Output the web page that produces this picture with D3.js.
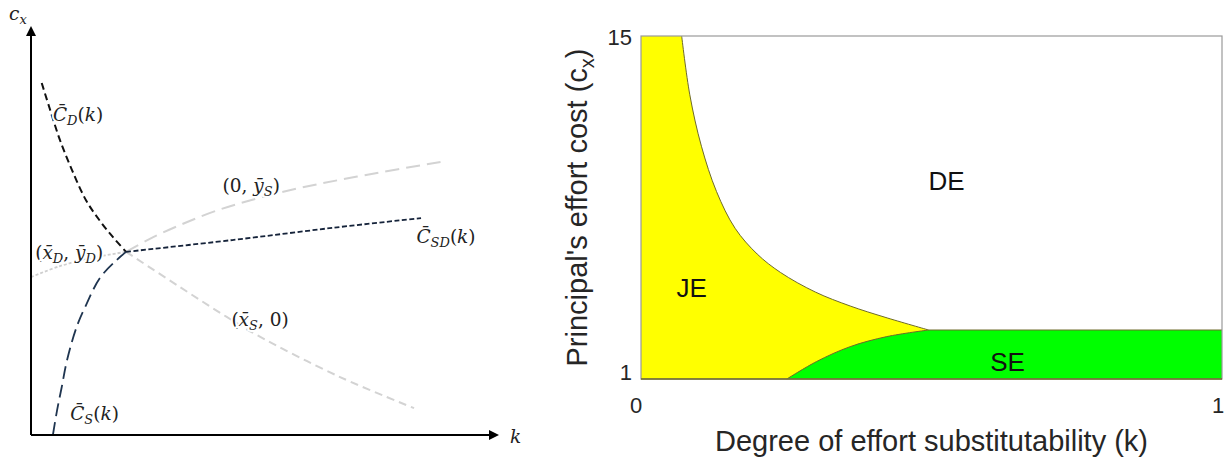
<!DOCTYPE html>
<html>
<head>
<meta charset="utf-8">
<title>Effort regions</title>
<script src="https://cdn.jsdelivr.net/npm/d3@7/dist/d3.min.js"></script>
<style>
body { margin: 0; background: #fff; }
svg { display: block; }
.math { font-family: 'DejaVu Serif', serif; font-size: 18.5px; fill: #222; }
.sans { font-family: 'Liberation Sans', Arial, sans-serif; fill: #262626; }
</style>
</head>
<body>
<svg id="chart" width="1225" height="457"></svg>
<script>
// ---------- right panel : equilibrium regions ----------
var kTicks  = [0, 1];
var cxTicks = [1, 15];

// JE / DE boundary
var jeDeK  = [0.070, 0.084, 0.104, 0.130, 0.162, 0.200, 0.240, 0.300, 0.360, 0.420, 0.495];
var jeDeCx = [15, 12.6, 10.5, 8.65, 7.15, 6.1, 5.35, 4.55, 3.98, 3.52, 3.0];
// JE / SE boundary
var jeSeK  = [0.251, 0.302, 0.360, 0.423, 0.495];
var jeSeCx = [1, 1.71, 2.32, 2.73, 3.0];
// SE / DE boundary
var seDeK  = [0.495, 1];
var seDeCx = [3, 3];

var regionNames = ["DE", "JE", "SE"];
var regionK     = [0.526, 0.087, 0.631];
var regionCx    = [9.08, 4.71, 1.71];

// ---------- left panel : schematic curves (unit box) ----------
var cdU  = [0.023, 0.041, 0.062, 0.088, 0.118, 0.148, 0.176, 0.204];
var cdV  = [0.865, 0.799, 0.725, 0.651, 0.577, 0.526, 0.486, 0.450];
var csU  = [0.047, 0.056, 0.066, 0.075, 0.087, 0.101, 0.116, 0.148, 0.184, 0.204];
var csV  = [0.000, 0.061, 0.118, 0.172, 0.226, 0.275, 0.314, 0.386, 0.430, 0.450];
var csdU = [0.204, 0.432, 0.647, 0.837];
var csdV = [0.450, 0.479, 0.509, 0.533];
var ysU  = [0.204, 0.255, 0.320, 0.395, 0.481, 0.577, 0.719, 0.884];
var ysV  = [0.450, 0.482, 0.516, 0.550, 0.580, 0.607, 0.639, 0.672];
var ydU  = [0.000, 0.062, 0.126, 0.204];
var ydV  = [0.388, 0.415, 0.434, 0.450];
var xsU  = [0.204, 0.319, 0.420, 0.484, 0.662, 0.822];
var xsV  = [0.450, 0.364, 0.290, 0.246, 0.143, 0.066];

var labelU = [0.047, 0.411, 0.009, 0.430, 0.084, 0.827];
var labelV = [0.771, 0.597, 0.432, 0.268, 0.037, 0.472];

function zip(a, b) { return a.map(function(d, i) { return [d, b[i]]; }); }

var svg = d3.select("#chart");

svg.append("defs").append("marker")
  .attr("id", "arrow")
  .attr("viewBox", "0 0 10 10")
  .attr("refX", 8).attr("refY", 5)
  .attr("markerWidth", 5).attr("markerHeight", 5)
  .attr("orient", "auto")
  .append("path").attr("d", "M0,0 L10,5 L0,10 z").attr("fill", "#000");

// ================= LEFT =================
var lx = d3.scaleLinear().domain([0, 1]).range([31, 497]);
var ly = d3.scaleLinear().domain([0, 1]).range([435, 28]);
var gL = svg.append("g");

var lline = d3.line()
  .x(function(d) { return lx(d[0]); })
  .y(function(d) { return ly(d[1]); })
  .curve(d3.curveCatmullRom.alpha(0.5));

var curves = [
  {pts: zip(ydU, ydV),   color: "#cfcfcf", dash: "3,2",  w: 1.8},
  {pts: zip(ysU, ysV),   color: "#d3d3d3", dash: "14,7", w: 2},
  {pts: zip(xsU, xsV),   color: "#d3d3d3", dash: "8,5",  w: 2},
  {pts: zip(cdU, cdV),   color: "#111",    dash: "7,4",  w: 2},
  {pts: zip(csU, csV),   color: "#1f3550", dash: "13,6", w: 1.8},
  {pts: zip(csdU, csdV), color: "#15233a", dash: "5,2.5", w: 1.8}
];
curves.forEach(function(c) {
  gL.append("path")
    .attr("d", lline(c.pts))
    .attr("fill", "none")
    .attr("stroke", c.color)
    .attr("stroke-width", c.w)
    .attr("stroke-dasharray", c.dash);
});

gL.append("line")
  .attr("x1", lx(0)).attr("y1", ly(0)).attr("x2", lx(0)).attr("y2", ly(1))
  .attr("stroke", "#000").attr("stroke-width", 2).attr("marker-end", "url(#arrow)");
gL.append("line")
  .attr("x1", lx(0)).attr("y1", ly(0)).attr("x2", lx(1)).attr("y2", ly(0))
  .attr("stroke", "#000").attr("stroke-width", 2).attr("marker-end", "url(#arrow)");

function mathLabel(x, y, parts, halo) {
  var t = gL.append("text").attr("class", "math").attr("x", x).attr("y", y);
  if (halo) t.attr("stroke", "#fff").attr("stroke-width", 4).attr("paint-order", "stroke");
  var down = false;
  parts.forEach(function(p) {
    var s = t.append("tspan").text(p[0]);
    if (p[1] === "i" || p[1] === "s") s.attr("font-style", "italic");
    if (p[1] === "s") {
      s.attr("font-size", "13px");
      if (!down) { s.attr("dy", 4); down = true; }
    } else if (down) {
      s.attr("dy", -4); down = false;
    }
  });
}

var labelParts = [
  [["C\u0304", "i"], ["D", "s"], ["("], ["k", "i"], [")"]],
  [["(0, "], ["y\u0304", "i"], ["S", "s"], [")"]],
  [["("], ["x\u0304", "i"], ["D", "s"], [", "], ["y\u0304", "i"], ["D", "s"], [")"]],
  [["("], ["x\u0304", "i"], ["S", "s"], [", 0)"]],
  [["C\u0304", "i"], ["S", "s"], ["("], ["k", "i"], [")"]],
  [["C\u0304", "i"], ["SD", "s"], ["("], ["k", "i"], [")"]]
];
labelParts.forEach(function(p, i) {
  mathLabel(lx(labelU[i]), ly(labelV[i]), p, true);
});
mathLabel(9, 20, [["c", "i"], ["x", "s"]], false);
mathLabel(510, 443, [["k", "i"]], false);

// ================= RIGHT =================
var x = d3.scaleLinear().domain([0, 1]).range([641, 1222]);
var y = d3.scaleLinear().domain([1, 15]).range([379, 36]);
var gR = svg.append("g");

var rline = d3.line()
  .x(function(d) { return x(d[0]); })
  .y(function(d) { return y(d[1]); })
  .curve(d3.curveCatmullRom.alpha(0.5));

var upper = rline(zip(jeDeK, jeDeCx));
var lower = rline(zip(jeSeK, jeSeCx));
var flat  = rline(zip(seDeK, seDeCx));

// JE (yellow)
gR.append("path")
  .attr("d", "M" + x(0) + "," + y(1) + "L" + x(0) + "," + y(15) + "L" + upper.slice(1) +
             "L" + x(jeDeK[jeDeK.length - 1]) + "," + y(1) + "Z")
  .attr("fill", "#ffff00");

// SE (green)
gR.append("path")
  .attr("d", lower + "L" + x(1) + "," + y(3) + "L" + x(1) + "," + y(1) + "Z")
  .attr("fill", "#00ff00");

[upper, lower, flat].forEach(function(d) {
  gR.append("path").attr("d", d).attr("fill", "none")
    .attr("stroke", "#6e6a2a").attr("stroke-width", 1);
});

gR.append("rect")
  .attr("x", x(0)).attr("y", y(15))
  .attr("width", x(1) - x(0)).attr("height", y(1) - y(15))
  .attr("fill", "none").attr("stroke", "#9a9a9a").attr("stroke-width", 1.2);
gR.append("line")
  .attr("x1", x(0)).attr("x2", x(1)).attr("y1", y(1)).attr("y2", y(1))
  .attr("stroke", "#6e6a2a").attr("stroke-width", 1.4);

var yAxis = gR.append("g")
  .attr("transform", "translate(" + x(0) + ",0)")
  .call(d3.axisLeft(y).tickValues(cxTicks).tickFormat(d3.format("d")).tickSize(0).tickPadding(9));
var xAxis = gR.append("g")
  .attr("transform", "translate(0," + y(1) + ")")
  .call(d3.axisBottom(x).tickValues(kTicks).tickFormat(d3.format("d")).tickSize(0).tickPadding(18));
[yAxis, xAxis].forEach(function(a) {
  a.select(".domain").remove();
  a.selectAll("text").attr("class", "sans").style("font-size", "22px")
    .attr("font-family", null);
});
yAxis.selectAll("text").attr("dy", function(d) { return d === 1 ? "0em" : "0.4em"; });
xAxis.selectAll("text").attr("dx", function(d) { return d === 1 ? "-0.2em" : "-0.25em"; });

gR.selectAll(".region")
  .data(regionNames)
  .enter().append("text")
  .attr("class", "sans")
  .attr("x", function(d, i) { return x(regionK[i]); })
  .attr("y", function(d, i) { return y(regionCx[i]); })
  .attr("dy", "0.36em")
  .attr("text-anchor", "middle")
  .style("font-size", "26px")
  .style("fill", "#111")
  .text(function(d) { return d; });

gR.append("text")
  .attr("class", "sans")
  .attr("x", (x(0) + x(1)) / 2)
  .attr("y", 451)
  .attr("text-anchor", "middle")
  .style("font-size", "29px")
  .text("Degree of effort substitutability (k)");

var yt = gR.append("text")
  .attr("class", "sans")
  .attr("transform", "translate(587," + ((y(1) + y(15)) / 2) + ") rotate(-90)")
  .attr("text-anchor", "middle")
  .style("font-size", "29px");
yt.append("tspan").text("Principal's effort cost (c");
yt.append("tspan").text("x").style("font-size", "20px").attr("dy", 7);
yt.append("tspan").text(")").attr("dy", -7);
</script>
</body>
</html>
